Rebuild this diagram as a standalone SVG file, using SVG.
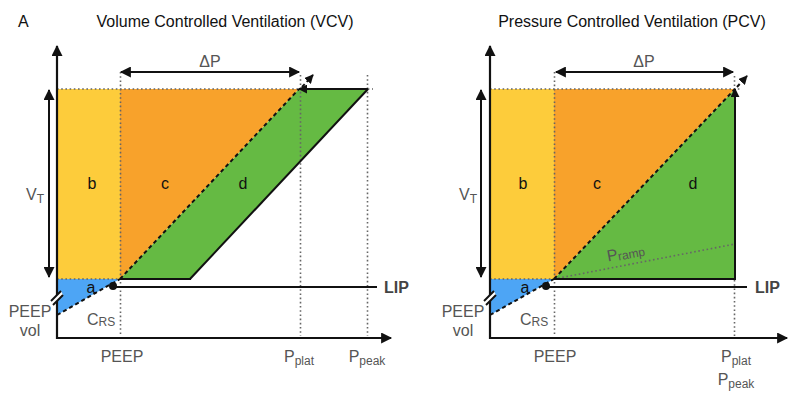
<svg xmlns="http://www.w3.org/2000/svg" width="799" height="408" viewBox="0 0 799 408">
<defs>
<style>
text{font-family:"Liberation Sans",Arial,Helvetica,sans-serif;}
.title{font-size:16px;fill:#111;}
.lab{font-size:16px;fill:#111;text-anchor:middle;}
.gray{font-size:16px;fill:#555;}
.mid{text-anchor:middle;}
.sub{font-size:12px;}
.lip{font-size:16px;font-weight:bold;fill:#444;}
.ax{stroke:#111;stroke-width:2.2;fill:none;}
.solid{stroke:#111;stroke-width:2;fill:none;}
.dash{stroke:#111;stroke-width:2;stroke-dasharray:4 3;fill:none;}
.dot{stroke:#666;stroke-width:1.6;stroke-dasharray:1.6 2.6;fill:none;}
.yel{fill:#FDCC3B;}
.ora{fill:#F8A22B;}
.grn{fill:#65BA43;}
.blu{fill:#4DA5F5;}
</style>
<marker id="ah" viewBox="0 0 10 10" refX="9" refY="5" markerWidth="12" markerHeight="11" markerUnits="userSpaceOnUse" orient="auto-start-reverse"><path d="M0,0 L10,5 L0,10 z" fill="#111"/></marker>
<marker id="ahs" viewBox="0 0 10 10" refX="9" refY="5" markerWidth="9" markerHeight="9" markerUnits="userSpaceOnUse" orient="auto"><path d="M0,0 L10,5 L0,10 z" fill="#111"/></marker>
</defs>
<rect width="799" height="408" fill="#fff"/>

<!-- LEFT PANEL -->
<g id="vcv-title"><text class="title" x="18" y="27">A</text><text class="title mid" x="225" y="27" text-anchor="middle">Volume Controlled Ventilation (VCV)</text></g>
<g id="vcv-b"><rect class="yel" x="57" y="89" width="63" height="190"/><text class="lab" x="92" y="189">b</text></g>
<g id="vcv-c"><polygon class="ora" points="120,89 299,89 120,279"/><text class="lab" x="165" y="189">c</text></g>
<g id="vcv-d"><polygon class="grn" points="120,279 299,89 368,89 190,279"/><text class="lab" x="243" y="189">d</text></g>
<g id="vcv-a"><polygon class="blu" points="57,279 120,279 57,315"/><text class="lab" x="91" y="293">a</text></g>

<!-- RIGHT PANEL -->
<g id="pcv-title"><text class="title mid" x="632" y="27" text-anchor="middle">Pressure Controlled Ventilation (PCV)</text></g>
<g id="pcv-b"><rect class="yel" x="490" y="89" width="64" height="190"/><text class="lab" x="523" y="189">b</text></g>
<g id="pcv-c"><polygon class="ora" points="554,89 735,89 554,279"/><text class="lab" x="597" y="189">c</text></g>
<g id="pcv-d"><polygon class="grn" points="554,279 735,89 735,279"/><text class="lab" x="693" y="189">d</text></g>
<g id="pcv-a"><polygon class="blu" points="490,279 554,279 490,315"/><text class="lab" x="525" y="293">a</text></g>

<g id="connectors">
<!-- dotted guides left -->
<line class="dot" x1="57" y1="89" x2="373" y2="89"/>
<line class="dot" x1="57" y1="279" x2="120" y2="279"/>
<line class="dot" x1="120.5" y1="72" x2="120.5" y2="336"/>
<line class="dot" x1="300.5" y1="75" x2="300.5" y2="336"/>
<line class="dot" x1="367.5" y1="75" x2="367.5" y2="336"/>
<!-- dotted guides right -->
<line class="dot" x1="490" y1="89" x2="741" y2="89"/>
<line class="dot" x1="490" y1="279" x2="554" y2="279"/>
<line class="dot" x1="554.5" y1="72" x2="554.5" y2="336"/>
<line class="dot" x1="734.5" y1="76" x2="734.5" y2="89"/>
<line class="dot" x1="734.5" y1="280" x2="734.5" y2="336"/>
<line class="dot" x1="554" y1="279" x2="735" y2="244"/>

<!-- left axes -->
<line class="ax" x1="57" y1="339" x2="57" y2="46" marker-end="url(#ah)"/>
<line class="ax" x1="56" y1="338" x2="391" y2="338" marker-end="url(#ah)"/>
<!-- right axes -->
<line class="ax" x1="490" y1="339" x2="490" y2="46" marker-end="url(#ah)"/>
<line class="ax" x1="489" y1="338" x2="787" y2="338" marker-end="url(#ah)"/>

<!-- axis breaks -->
<polygon points="51,301 61,291 63,295 53,305" fill="#fff"/>
<line class="solid" x1="51" y1="301" x2="61" y2="291" stroke-width="1.6"/>
<line class="solid" x1="53" y1="305" x2="63" y2="295" stroke-width="1.6"/>
<polygon points="484,301 494,291 496,295 486,305" fill="#fff"/>
<line class="solid" x1="484" y1="301" x2="494" y2="291" stroke-width="1.6"/>
<line class="solid" x1="486" y1="305" x2="496" y2="295" stroke-width="1.6"/>

<!-- left shapes edges -->
<line class="dash" x1="57" y1="315" x2="120" y2="279"/>
<line class="dash" x1="120" y1="279" x2="299" y2="89"/>
<line class="solid" x1="120" y1="279" x2="191" y2="279"/>
<line class="solid" x1="190" y1="279" x2="368" y2="89"/>
<line class="solid" x1="368" y1="89" x2="299" y2="89" marker-end="url(#ahs)"/>
<line class="dash" x1="302" y1="87" x2="313" y2="75" marker-end="url(#ahs)"/>
<line class="solid" x1="113" y1="287" x2="377" y2="287"/>
<circle cx="113" cy="286" r="4" fill="#111"/>
<line class="solid" x1="121" y1="72" x2="299" y2="72" marker-start="url(#ah)" marker-end="url(#ah)"/>
<line class="solid" x1="49" y1="90" x2="49" y2="277" marker-start="url(#ah)" marker-end="url(#ah)"/>

<!-- right shapes edges -->
<line class="dash" x1="490" y1="315" x2="554" y2="279"/>
<line class="dash" x1="554" y1="279" x2="735" y2="89"/>
<line class="solid" x1="554" y1="279" x2="736" y2="279"/>
<line class="solid" x1="735" y1="280" x2="735" y2="89" marker-end="url(#ahs)"/>
<line class="dash" x1="737" y1="87" x2="747" y2="76" marker-end="url(#ahs)"/>
<line class="solid" x1="546" y1="287" x2="747" y2="287"/>
<circle cx="546" cy="286" r="4" fill="#111"/>
<line class="solid" x1="556" y1="72" x2="733" y2="72" marker-start="url(#ah)" marker-end="url(#ah)"/>
<line class="solid" x1="481" y1="90" x2="481" y2="277" marker-start="url(#ah)" marker-end="url(#ah)"/>
</g>

<g id="vcv-labels">
<text class="gray mid" x="210" y="67" text-anchor="middle" font-size="17">ΔP</text>
<text class="gray" x="26" y="200">V<tspan class="sub" dy="3">T</tspan></text>
<text class="gray" x="87" y="325">C<tspan class="sub" dy="1">RS</tspan></text>
<text class="gray mid" x="122" y="362" text-anchor="middle">PEEP</text>
<text class="gray mid" x="30" y="317" text-anchor="middle">PEEP</text>
<text class="gray mid" x="30" y="336" text-anchor="middle">vol</text>
<text class="lip" x="384" y="293">LIP</text>
<text class="gray mid" x="299" y="362" text-anchor="middle">P<tspan class="sub" dy="3">plat</tspan></text>
<text class="gray mid" x="367" y="362" text-anchor="middle">P<tspan class="sub" dy="3">peak</tspan></text>
</g>

<g id="pcv-labels">
<text class="gray mid" x="644" y="67" text-anchor="middle" font-size="17">ΔP</text>
<text class="gray" x="459" y="200">V<tspan class="sub" dy="3">T</tspan></text>
<text class="gray" x="520" y="325">C<tspan class="sub" dy="1">RS</tspan></text>
<text class="gray mid" x="555" y="362" text-anchor="middle">PEEP</text>
<text class="gray mid" x="463" y="317" text-anchor="middle">PEEP</text>
<text class="gray mid" x="463" y="336" text-anchor="middle">vol</text>
<text class="lip" x="755" y="293">LIP</text>
<text class="gray mid" x="736" y="362" text-anchor="middle">P<tspan class="sub" dy="3">plat</tspan></text>
<text class="gray mid" x="736" y="385" text-anchor="middle">P<tspan class="sub" dy="3">peak</tspan></text>
<text class="gray" x="626" y="258" text-anchor="middle" transform="rotate(-10.5 626 254)">P<tspan class="sub" dy="1">ramp</tspan></text>
</g>
</svg>
